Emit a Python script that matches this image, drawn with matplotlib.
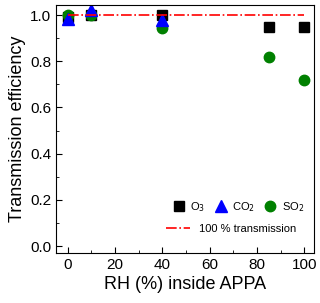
import matplotlib
matplotlib.use("Agg")
from matplotlib import pyplot as plt
from matplotlib.ticker import MultipleLocator

plt.rcParams['font.family'] = ['Liberation Sans', 'DejaVu Sans']

# dados
rh_o3 = [0, 10, 40, 85, 100]
ef_o3 = [0.99, 1.00, 1.00, 0.95, 0.95]

rh_co2 = [0, 10, 40]
ef_co2 = [0.985, 1.02, 0.98]

rh_so2 = [0, 10, 40, 85, 100]
ef_so2 = [1.00, 1.00, 0.945, 0.82, 0.72]

linha_x = [0, 100]
linha_y = [1.0, 1.0]

fig = plt.figure(figsize=(3.2, 3.03), dpi=100)
ax = fig.add_axes([0.175, 0.165, 0.806, 0.818])

h1, = ax.plot(rh_o3, ef_o3, 's', color='black', ms=6.5, ls='none', label='O$_3$')
h3, = ax.plot(rh_so2, ef_so2, 'o', color='green', ms=7.5, ls='none', label='SO$_2$')
h2, = ax.plot(rh_co2, ef_co2, '^', color='blue', ms=8, ls='none', label='CO$_2$')
h4, = ax.plot(linha_x, linha_y, '-.', color='red', lw=1.2, label='100 % transmission')

ax.set_xlim(-5, 104)
ax.set_ylim(-0.03, 1.043)
ax.xaxis.set_major_locator(MultipleLocator(20))
ax.xaxis.set_minor_locator(MultipleLocator(10))
ax.yaxis.set_major_locator(MultipleLocator(0.2))
ax.yaxis.set_minor_locator(MultipleLocator(0.1))
ax.yaxis.set_major_formatter(plt.FormatStrFormatter('%.1f'))
ax.tick_params(which='both', direction='in', labelsize=11)
ax.tick_params(which='major', length=4)
ax.tick_params(which='minor', length=2.5)

ax.set_xlabel('RH (%) inside APPA', fontsize=13, labelpad=3)
ax.set_ylabel('Transmission efficiency', fontsize=13, labelpad=3)

leg1 = ax.legend(handles=[h1, h2, h3], ncol=3, frameon=False, fontsize=8,
                 loc='center right', bbox_to_anchor=(1.0, 0.185),
                 handletextpad=0.4, columnspacing=0.8, handlelength=1.2)
ax.add_artist(leg1)
ax.legend(handles=[h4], frameon=False, fontsize=8, loc='center right',
          bbox_to_anchor=(0.97, 0.097), handlelength=2.2)

fig.savefig('out.png', dpi=100)
